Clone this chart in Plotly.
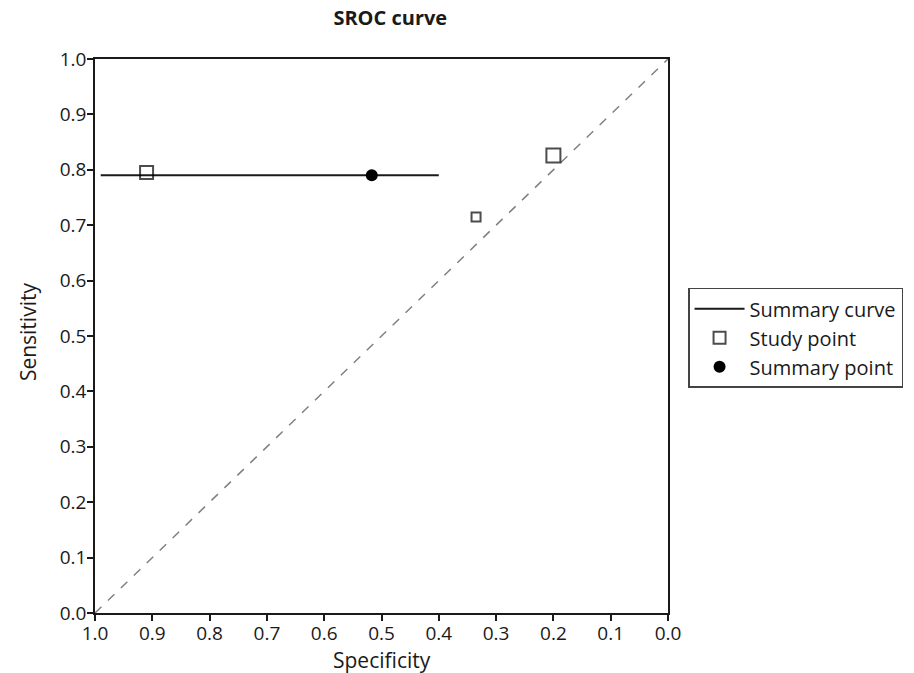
import plotly.graph_objects as go

# Data
study_spec = [0.91, 0.335, 0.20]
study_sens = [0.795, 0.715, 0.826]
summary_spec = [0.517]
summary_sens = [0.79]
curve_spec = [0.99, 0.40]
curve_sens = [0.79, 0.79]
diag_spec = [1.0, 0.0]
diag_sens = [0.0, 1.0]
tick_vals = [i / 10 for i in range(11)]
tick_text = ["%.1f" % v for v in tick_vals]
x_title = "Specificity"
y_title = "Sensitivity"
chart_title = "SROC curve"

study_sizes = [13, 9, 14]

FONT = "Open Sans"
INK = "#1a1a1a"

fig = go.Figure()

fig.add_trace(go.Scatter(
    x=diag_spec, y=diag_sens, mode="lines",
    line=dict(color="#808080", width=1.5, dash="dash"),
    showlegend=False, hoverinfo="skip"))

fig.add_trace(go.Scatter(
    x=curve_spec, y=curve_sens, mode="lines",
    line=dict(color=INK, width=2),
    name="Summary curve"))

fig.add_trace(go.Scatter(
    x=study_spec, y=study_sens, mode="markers",
    marker=dict(symbol="square-open", size=study_sizes, color="black",
                line=dict(width=2, color="black")),
    name="Study point"))

fig.add_trace(go.Scatter(
    x=summary_spec, y=summary_sens, mode="markers",
    marker=dict(symbol="circle", size=12, color="black"),
    name="Summary point"))

axis_common = dict(
    tickmode="array", tickvals=tick_vals, ticktext=tick_text,
    showgrid=False, zeroline=False, showline=True, linecolor=INK,
    linewidth=1.5, mirror=True, ticks="outside", ticklen=6,
    tickcolor=INK, tickwidth=1.5, automargin=False,
    tickfont=dict(family=FONT, size=19, color=INK),
)

fig.update_layout(
    width=914, height=673,
    margin=dict(l=95, r=246, t=59, b=60, autoexpand=False),
    paper_bgcolor="white", plot_bgcolor="white",
    title=dict(text="<b>" + chart_title + "</b>", x=0.427, xanchor="center", y=0.973,
               yanchor="middle", automargin=False,
               font=dict(family=FONT, size=20, color=INK)),
    xaxis=dict(axis_common, range=[1.0, 0.0], ticklabelstandoff=-4),
    yaxis=dict(axis_common, range=[0.0, 1.0], ticklabelstandoff=-3),
    legend=dict(x=1.035, y=0.587, xanchor="left", yanchor="top",
                bordercolor="#444444", borderwidth=1.5, bgcolor="white",
                font=dict(family=FONT, size=20, color=INK),
                itemwidth=50, tracegroupgap=0),
    annotations=[
        dict(text=x_title, xref="paper", yref="paper", x=0.501, y=0,
             xanchor="center", yanchor="middle", yshift=-47, showarrow=False,
             font=dict(family=FONT, size=21, color=INK)),
        dict(text=y_title, xref="paper", yref="paper", x=0, y=0.507,
             xanchor="center", yanchor="middle", xshift=-67, textangle=-90,
             showarrow=False, font=dict(family=FONT, size=21, color=INK)),
    ],
)

fig.write_html("out.html", config={"displayModeBar": False},
               post_script="document.body.style.margin='0';document.body.style.overflow='hidden';")
